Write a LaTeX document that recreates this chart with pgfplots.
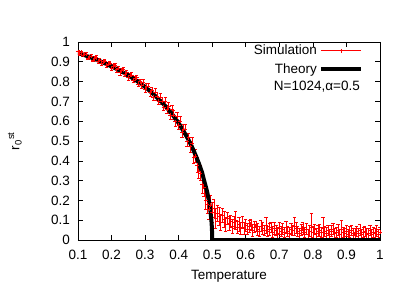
\documentclass[border=0pt]{standalone}
\usepackage{pgfplots}
\pgfplotsset{compat=1.18}
\usepackage{fontspec}
\setmainfont{Liberation Sans}
\definecolor{simred}{RGB}{255,0,0}
\newcommand{\lbl}{\fontsize{13.5bp}{15bp}\selectfont}
\begin{document}
\color{simred}%
\begin{tikzpicture}
\begin{axis}[
  at={(0,0)}, anchor=south west,
  scale only axis, width=302bp, height=198bp,
  xmin=0.1, xmax=1, ymin=0, ymax=1,
  font=\lbl,
  /pgf/number format/assume math mode=true,
  xtick={0.1,0.2,0.3,0.4,0.5,0.6,0.7,0.8,0.9,1},
  ytick={0,0.1,0.2,0.3,0.4,0.5,0.6,0.7,0.8,0.9,1},
  xticklabels={0.1,0.2,0.3,0.4,0.5,0.6,0.7,0.8,0.9,1},
  yticklabels={0,0.1,0.2,0.3,0.4,0.5,0.6,0.7,0.8,0.9,1},
  tick label style={font=\lbl, text=black},
  tick align=inside, major tick length=5bp,
  axis line style={draw=black, line width=0.8bp},
  xtick style={draw=black, line width=0.6bp},
  ytick style={draw=black, line width=0.6bp},
  xticklabel style={yshift=-7bp},
  yticklabel style={xshift=-4.5bp},
  xlabel={Temperature},
  ylabel={r\textsubscript{0}\textsuperscript{st}},
  label style={font=\lbl, text=black},
  xlabel style={at={(axis description cs:0.5,-0.182)},anchor=center},
  ylabel style={at={(axis description cs:-0.209,0.5)},anchor=center},
  legend plot pos=right,
  legend cell align=right,
  legend style={draw=none, fill=none, inner sep=0pt, row sep=3bp, text=black,
    anchor=north east, at={(axis description cs:0.944,0.995)},
    font=\lbl},
]
\addplot[simred, draw=simred, line width=0.7bp, only marks, mark=+, mark size=2bp,
  mark options={simred, line width=0.7bp},
  legend image code/.code={\draw[simred, line width=0.7bp] (0bp,0bp) -- (40bp,0bp);
     \draw[simred, line width=0.7bp] (20bp,-2bp) -- (20bp,2bp);},
  error bars/.cd, y dir=both, y explicit,
  error bar style={draw=simred, color=simred, line width=0.6bp},
  error mark options={simred, rotate=90, mark size=1.6bp, line width=0.6bp}]
  table[x index=0, y index=1, y error index=2] {
0.100 0.9515 0.006
0.105 0.9375 0.007
0.110 0.9474 0.006
0.115 0.9333 0.007
0.120 0.9372 0.008
0.125 0.9400 0.006
0.130 0.9199 0.008
0.135 0.9257 0.007
0.140 0.9294 0.008
0.145 0.9091 0.007
0.150 0.9178 0.008
0.155 0.9213 0.009
0.160 0.9028 0.008
0.165 0.9093 0.009
0.170 0.8897 0.008
0.175 0.9001 0.009
0.180 0.9024 0.010
0.185 0.8824 0.009
0.190 0.8864 0.010
0.195 0.8924 0.009
0.200 0.8683 0.010
0.205 0.8783 0.011
0.210 0.8813 0.010
0.215 0.8600 0.012
0.220 0.8677 0.011
0.225 0.8451 0.012
0.230 0.8545 0.011
0.235 0.8599 0.012
0.240 0.8353 0.011
0.245 0.8462 0.012
0.250 0.8200 0.013
0.255 0.8317 0.012
0.260 0.8334 0.013
0.265 0.8072 0.012
0.270 0.8140 0.014
0.275 0.8190 0.013
0.280 0.7880 0.014
0.285 0.7999 0.013
0.290 0.7818 0.015
0.295 0.7954 0.014
0.300 0.7620 0.015
0.305 0.7750 0.016
0.310 0.7770 0.015
0.315 0.7433 0.017
0.320 0.7545 0.016
0.325 0.7217 0.017
0.330 0.7478 0.016
0.335 0.7257 0.018
0.340 0.7005 0.017
0.345 0.7215 0.018
0.350 0.7025 0.018
0.355 0.6720 0.019
0.360 0.6985 0.020
0.365 0.6610 0.019
0.370 0.6735 0.020
0.375 0.6290 0.021
0.380 0.6605 0.020
0.385 0.6320 0.022
0.390 0.5975 0.021
0.395 0.6230 0.023
0.400 0.5815 0.022
0.405 0.6003 0.024
0.410 0.5440 0.023
0.415 0.5600 0.025
0.420 0.5600 0.024
0.425 0.4970 0.026
0.430 0.5160 0.025
0.435 0.4715 0.027
0.440 0.4890 0.028
0.445 0.4195 0.030
0.450 0.4250 0.035
0.455 0.3790 0.037
0.460 0.3480 0.038
0.465 0.3390 0.040
0.470 0.2800 0.042
0.475 0.2660 0.044
0.480 0.2000 0.046
0.485 0.1825 0.048
0.490 0.1550 0.050
0.495 0.1750 0.050
0.500 0.1400 0.050
0.505 0.1600 0.045
0.510 0.1100 0.050
0.515 0.1350 0.040
0.520 0.1200 0.045
0.525 0.0900 0.040
0.530 0.1250 0.035
0.535 0.1050 0.040
0.540 0.0800 0.035
0.545 0.1100 0.030
0.550 0.0850 0.035
0.555 0.0950 0.030
0.560 0.0700 0.035
0.565 0.0900 0.030
0.570 0.1000 0.045
0.575 0.0650 0.030
0.580 0.0800 0.035
0.585 0.0600 0.030
0.590 0.0900 0.028
0.595 0.0600 0.030
0.600 0.0750 0.032
0.605 0.0550 0.028
0.610 0.0700 0.030
0.615 0.0800 0.026
0.620 0.0500 0.030
0.625 0.0650 0.028
0.630 0.0700 0.025
0.635 0.0550 0.030
0.640 0.0450 0.026
0.645 0.0700 0.028
0.650 0.0600 0.030
0.655 0.0500 0.025
0.660 0.0750 0.040
0.665 0.0450 0.026
0.670 0.0550 0.030
0.675 0.0650 0.025
0.680 0.0400 0.028
0.685 0.0600 0.030
0.690 0.0500 0.026
0.695 0.0350 0.028
0.700 0.0600 0.030
0.705 0.0450 0.025
0.710 0.0550 0.028
0.715 0.0400 0.026
0.720 0.0650 0.030
0.725 0.0450 0.025
0.730 0.0350 0.028
0.735 0.0550 0.027
0.740 0.0500 0.025
0.745 0.0700 0.045
0.750 0.0600 0.028
0.755 0.0450 0.026
0.760 0.0350 0.025
0.765 0.0500 0.028
0.770 0.0600 0.030
0.775 0.0400 0.025
0.780 0.0550 0.027
0.785 0.0300 0.026
0.790 0.0450 0.028
0.795 0.0650 0.070
0.800 0.0400 0.028
0.805 0.0550 0.026
0.810 0.0350 0.025
0.815 0.0450 0.027
0.820 0.0500 0.030
0.825 0.0400 0.026
0.830 0.0600 0.055
0.835 0.0450 0.025
0.840 0.0350 0.028
0.845 0.0500 0.026
0.850 0.0300 0.025
0.855 0.0450 0.027
0.860 0.0550 0.028
0.865 0.0350 0.025
0.870 0.0400 0.026
0.875 0.0500 0.028
0.880 0.0300 0.025
0.885 0.0550 0.045
0.890 0.0400 0.026
0.895 0.0350 0.025
0.900 0.0450 0.027
0.905 0.0300 0.025
0.910 0.0400 0.028
0.915 0.0500 0.026
0.920 0.0350 0.025
0.925 0.0300 0.027
0.930 0.0450 0.025
0.935 0.0350 0.026
0.940 0.0500 0.028
0.945 0.0300 0.025
0.950 0.0400 0.026
0.955 0.0450 0.025
0.960 0.0300 0.027
0.965 0.0350 0.025
0.970 0.0500 0.026
0.975 0.0300 0.024
0.980 0.0400 0.026
0.985 0.0350 0.025
0.990 0.0450 0.027
0.995 0.0300 0.024
1.000 0.0400 0.025
};
\addlegendentry{Simulation}
\addplot[black, draw=black, line width=4bp, no marks, line join=round,
  legend image code/.code={\draw[black, line width=4bp] (0bp,0bp) -- (40bp,0bp);}]
  coordinates {
(0.1,0.9455) (0.11,0.9394) (0.12,0.9332) (0.13,0.9269) (0.14,0.9204)
(0.15,0.9138) (0.16,0.9068) (0.17,0.8997) (0.18,0.8924) (0.19,0.8844)
(0.20,0.8763) (0.21,0.8683) (0.22,0.8597) (0.23,0.8505) (0.24,0.8413)
(0.25,0.8310) (0.26,0.8204) (0.27,0.8100) (0.28,0.7980) (0.29,0.7858)
(0.30,0.7730) (0.31,0.7590) (0.32,0.7435) (0.33,0.7278) (0.34,0.7115)
(0.35,0.6955) (0.36,0.6765) (0.37,0.6575) (0.38,0.6365) (0.39,0.6135)
(0.40,0.5905) (0.41,0.5620) (0.42,0.5340) (0.43,0.5040) (0.44,0.4690)
(0.45,0.4300) (0.46,0.3880) (0.47,0.3400) (0.475,0.3060) (0.48,0.2750)
(0.485,0.2425) (0.49,0.1990) (0.4925,0.1724) (0.495,0.1414) (0.4975,0.1000)
(0.499,0.0632) (0.4999,0.0200) (0.5,0) (1,0)
};
\addlegendentry{Theory}
\node[anchor=center, font=\lbl, text=black] at (axis description cs:0.791,0.773) {N=1024,α=0.5};
\end{axis}
\path[use as bounding box] (-78bp,-46bp) rectangle (331bp,240bp);
\end{tikzpicture}
\end{document}
